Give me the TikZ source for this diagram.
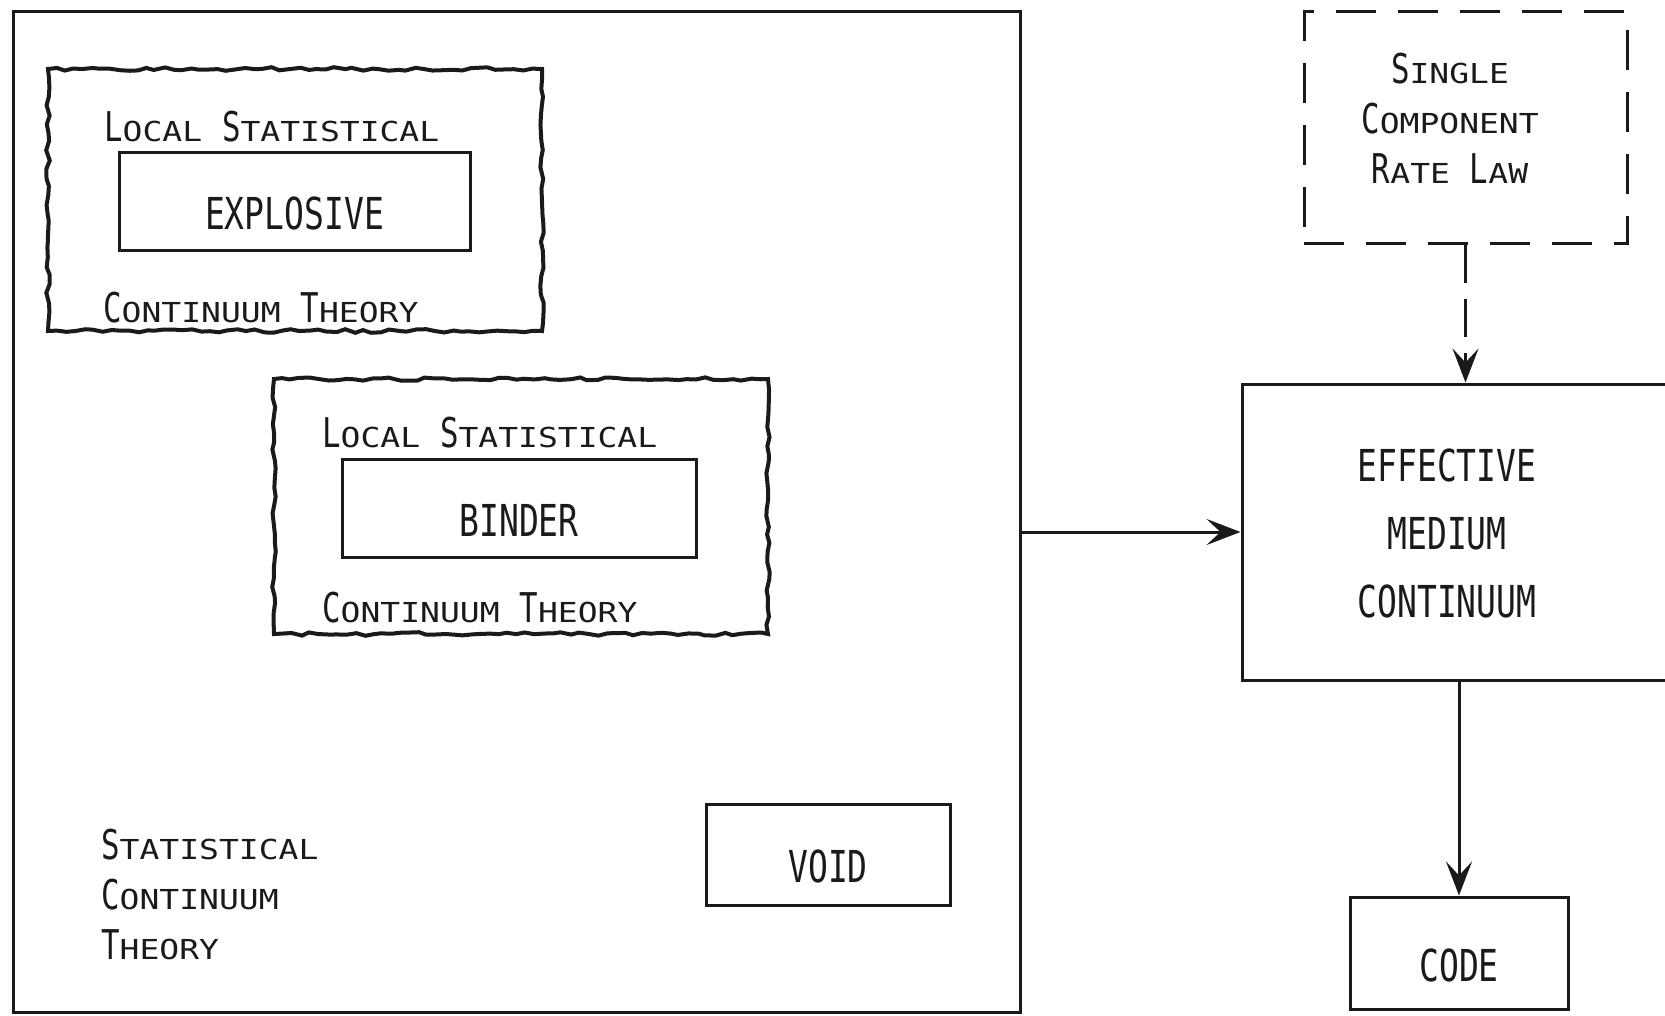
\documentclass[tikz,border=0pt]{standalone}
\usepackage{fontspec}
\newfontfamily\plotfont[FakeStretch=0.75]{DejaVu Sans Mono}
\newfontfamily\plotsmall[FakeStretch=1.2]{DejaVu Sans Mono}
\newcommand{\capsize}{\plotfont\fontsize{44}{68}\selectfont}
\newcommand{\smallsize}{\plotsmall\fontsize{27.5}{50}\selectfont}
\newcommand{\scword}[2]{{\plotfont\fontsize{41}{50}\selectfont #1}{\smallsize #2}}
\usetikzlibrary{arrows.meta,positioning,decorations.pathmorphing}
\definecolor{Ink}{HTML}{1A1A1A}
\tikzset{
  box/.style={draw=Ink,line width=3pt,inner sep=0pt,font=\capsize,text=Ink},
  boxtext/.style={text height=56pt,text depth=0pt},
  wavybox/.style={box,line width=4pt,decorate,decoration={random steps,segment length=9pt,amplitude=1.8pt}},
  dashbox/.style={box,dash pattern=on 40pt off 22pt},
  caption/.style={font=\capsize,text=Ink,inner sep=0pt,align=center},
  sclabel/.style={font=\smallsize,text=Ink,inner sep=0pt,anchor=west,align=left},
  arrow/.style={-{Stealth[length=34pt,width=26pt,inset=14pt]},line width=3pt,draw=Ink},
  dashedarrow/.style={arrow,dash pattern=on 38pt off 16pt}
}
\pgfmathsetseed{7}

\begin{document}
\begin{tikzpicture}[x=1pt,y=-1pt]
  \clip (0,0) rectangle (1665,1015);
  \node[box,minimum width=1007pt,minimum height=1001pt] (sct) at (516.5,511.5) {};

  \node[wavybox,minimum width=494pt,minimum height=262pt] (explosive) at (295,200) {};
  \node[box,boxtext,minimum width=351pt,minimum height=98pt] (explosivecore) at (294.5,201) {EXPLOSIVE};
  \node[sclabel] (explosivetop) at (104,127) {\scword{L}{OCAL} \scword{S}{TATISTICAL}};
  \node[sclabel] (explosivebot) at (103,308) {\scword{C}{ONTINUUM} \scword{T}{HEORY}};

  \node[wavybox,minimum width=494pt,minimum height=255pt] (binder) at (521,506.5) {};
  \node[box,boxtext,minimum width=354pt,minimum height=98pt] (bindercore) at (519,508) {BINDER};
  \node[sclabel] (bindertop) at (322,433) {\scword{L}{OCAL} \scword{S}{TATISTICAL}};
  \node[sclabel] (binderbot) at (322,608) {\scword{C}{ONTINUUM} \scword{T}{HEORY}};

  \node[box,boxtext,minimum width=244pt,minimum height=101pt] (void) at (828,854.5) {VOID};
  \node[sclabel,anchor=north west] (sctlabel) at (101,829)
    {\scword{S}{TATISTICAL}\\\scword{C}{ONTINUUM}\\\scword{T}{HEORY}};

  \node[dashbox,minimum width=323pt,minimum height=232pt] (rate) at (1465.5,127) {};
  \node[sclabel,anchor=center,align=center] (ratetext) at (1450,118)
    {\scword{S}{INGLE}\\\scword{C}{OMPONENT}\\\scword{R}{ATE} \scword{L}{AW}};

  \node[box,minimum width=500pt,minimum height=296pt] (medium) at (1492,532) {};
  \node[caption] (mediumtext) at (1447,533) {EFFECTIVE\\MEDIUM\\CONTINUUM};

  \node[box,boxtext,minimum width=218pt,minimum height=112pt] (code) at (1459,953) {CODE};

  \draw[arrow] (sct.east |- medium.west) -- (medium.west);
  \draw[dashedarrow] (rate.south) -- (rate.south |- medium.north);
  \draw[arrow] (code.north |- medium.south) -- (code.north);
\end{tikzpicture}
\end{document}
